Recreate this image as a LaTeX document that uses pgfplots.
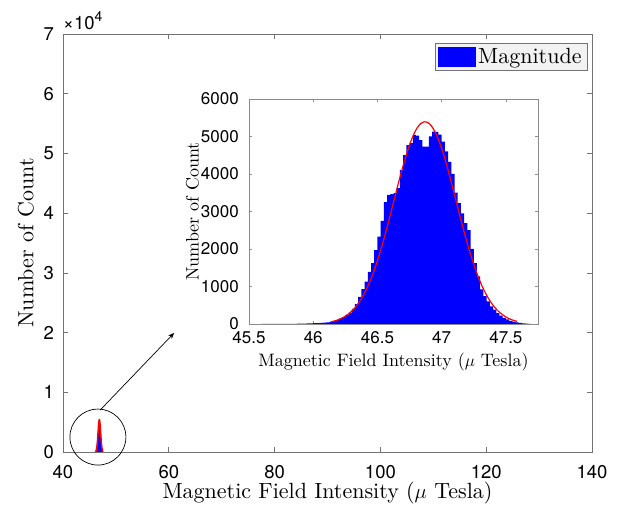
\documentclass[border=0pt]{standalone}
\usepackage{fontspec}
\setmainfont{lmroman10-regular.otf}[ItalicFont=lmroman10-italic.otf, BoldFont=lmroman10-bold.otf]
\usepackage{pgfplots}
\pgfplotsset{compat=1.18}
\usepackage{pgfplotstable}
\usetikzlibrary{arrows.meta}
\newfontfamily\tickfont{TeX Gyre Heros}

\pgfplotstableread{
x y
45.600 1
45.625 1
45.650 1
45.675 2
45.700 2
45.725 2
45.750 3
45.775 3
45.800 4
45.825 5
45.850 6
45.875 7
45.900 9
45.925 11
45.950 14
45.975 17
46.000 21
46.025 25
46.050 30
46.075 35
46.100 40
46.125 55
46.150 75
46.175 100
46.200 140
46.225 185
46.250 240
46.275 300
46.300 400
46.325 530
46.350 720
46.375 930
46.400 1130
46.425 1390
46.450 1620
46.475 1970
46.500 2330
46.525 2750
46.550 3250
46.575 3440
46.600 3460
46.625 3490
46.650 3620
46.675 4100
46.700 4500
46.725 4770
46.750 4820
46.775 5040
46.800 5020
46.825 4900
46.850 4730
46.875 4730
46.900 5000
46.925 5130
46.950 5120
46.975 5050
47.000 4860
47.025 4600
47.050 4320
47.075 4000
47.100 3500
47.125 3220
47.150 2950
47.175 2690
47.200 2500
47.225 2000
47.250 1620
47.275 1270
47.300 920
47.325 740
47.350 600
47.375 470
47.400 380
47.425 290
47.450 220
47.475 160
47.500 120
47.525 85
47.550 60
47.575 40
47.600 28
47.625 18
47.650 10
47.675 5
47.700 0
}\histdata

\pgfplotstableread{
x y
46.1375 57
46.1625 78
46.1875 105
46.2125 139
46.2375 182
46.2625 237
46.2875 305
46.3125 388
46.3375 489
46.3625 609
46.3875 751
46.4125 917
46.4375 1107
46.4625 1322
46.4875 1563
46.5125 1828
46.5375 2115
46.5625 2422
46.5875 2745
46.6125 3077
46.6375 3413
46.6625 3747
46.6875 4070
46.7125 4373
46.7375 4649
46.7625 4892
46.7875 5093
46.8125 5246
46.8375 5347
46.8625 5392
46.8875 5381
46.9125 5313
46.9375 5191
46.9625 5018
46.9875 4800
47.0125 4543
47.0375 4254
47.0625 3942
47.0875 3614
47.1125 3279
47.1375 2943
47.1625 2614
47.1875 2298
47.2125 1998
47.2375 1719
47.2625 1464
47.2875 1233
47.3125 1028
47.3375 848
47.3625 692
47.3875 558
47.4125 446
47.4375 353
47.4625 276
47.4875 214
47.5125 164
47.5375 124
47.5625 93
47.5875 69
}\fitdata

\begin{document}
\begin{tikzpicture}
\path[use as bounding box] (-63pt,-54pt) rectangle (556pt,452pt);
\begin{axis}[
  at={(0pt,0pt)}, anchor=south west,
  scale only axis, width=529pt, height=418pt,
  xmin=40, xmax=140, ymin=0, ymax=70000,
  xtick={40,60,80,100,120,140},
  ytick={0,10000,20000,30000,40000,50000,60000,70000},
  yticklabels={0,1,2,3,4,5,6,7},
  scaled ticks=false,
  tick align=inside, xtick pos=both, ytick pos=both,
  major tick length=5pt,
  axis line style={black!55, line width=0.6pt},
  every tick/.style={black!55, line width=0.6pt},
  /pgf/number format/assume math mode=true,
  ticklabel style={font=\tickfont\fontsize{18.5}{20}\selectfont},
  xticklabel style={anchor=base, yshift=-27pt, inner sep=0pt},
  yticklabel style={anchor=east, xshift=-9pt, inner sep=0pt},
  xlabel={Magnetic Field Intensity ($\mu$ Tesla)},
  ylabel={Number of Count},
  label style={font=\fontsize{22}{24}\selectfont},
  xlabel style={at={([yshift=-47pt]axis description cs:0.5,0)}, anchor=base, inner sep=0pt},
  ylabel style={at={([xshift=-29.5pt]axis description cs:0,0.5)}, anchor=base, inner sep=0pt},
  clip=false,
  legend style={at={(0.991,0.9785)}, anchor=north east, draw=black!55, fill=black!5,
    font=\fontsize{22}{24}\selectfont, inner xsep=3pt, inner ysep=2.5pt,
    nodes={inner sep=2.5pt}},
  legend image code/.code={\fill[blue] (0pt,-10pt) rectangle (38pt,10pt);},
]
\addplot[const plot, fill=blue, draw=none] table[x=x,y=y] {\histdata} \closedcycle;
\addlegendentry{Magnitude}
\addplot[red, line width=1.5pt, smooth, forget plot] table[x=x,y=y] {\fitdata};
\draw[black, line width=0.7pt] (axis cs:46.6,2500) circle [radius=28pt];
\draw[black, line width=0.7pt, -{Stealth[length=6pt,width=5pt]}] (axis cs:47.0,7000) -- (axis cs:61.0,19930);
\node[anchor=base west, inner sep=0pt, font=\tickfont\fontsize{18.5}{20}\selectfont] at ([yshift=4pt]rel axis cs:0,1) {×10\raisebox{0.45em}{\fontsize{14}{15}\selectfont 4}};
\end{axis}

\begin{axis}[
  at={(186pt,128pt)}, anchor=south west,
  scale only axis, width=289pt, height=225pt,
  xmin=45.5, xmax=47.75, ymin=0, ymax=6000,
  xtick={45.5,46,46.5,47,47.5},
  xticklabels={45.5,46,46.5,47,47.5},
  ytick={0,1000,2000,3000,4000,5000,6000},
  yticklabels={0,1000,2000,3000,4000,5000,6000},
  scaled ticks=false,
  tick align=inside, xtick pos=both, ytick pos=both,
  major tick length=3pt,
  axis background/.style={fill=white},
  axis line style={black!45, line width=0.6pt},
  every tick/.style={black!45, line width=0.6pt},
  /pgf/number format/assume math mode=true,
  ticklabel style={font=\tickfont\fontsize{17}{19}\selectfont},
  xticklabel style={anchor=base, yshift=-20pt, inner sep=0pt},
  yticklabel style={anchor=east, xshift=-10pt, inner sep=0pt},
  xlabel={Magnetic Field Intensity ($\mu$ Tesla)},
  ylabel={Number of Count},
  label style={font=\fontsize{18}{20}\selectfont},
  xlabel style={at={([yshift=-43pt]axis description cs:0.5,0)}, anchor=base, inner sep=0pt},
  ylabel style={at={([xshift=-50.5pt]axis description cs:0,0.5)}, anchor=base, inner sep=0pt},
]
\addplot[const plot, fill=blue, draw=none] table[x=x,y=y] {\histdata} \closedcycle;
\addplot[red, line width=1.2pt, smooth] table[x=x,y=y] {\fitdata};
\end{axis}
\end{tikzpicture}
\end{document}
